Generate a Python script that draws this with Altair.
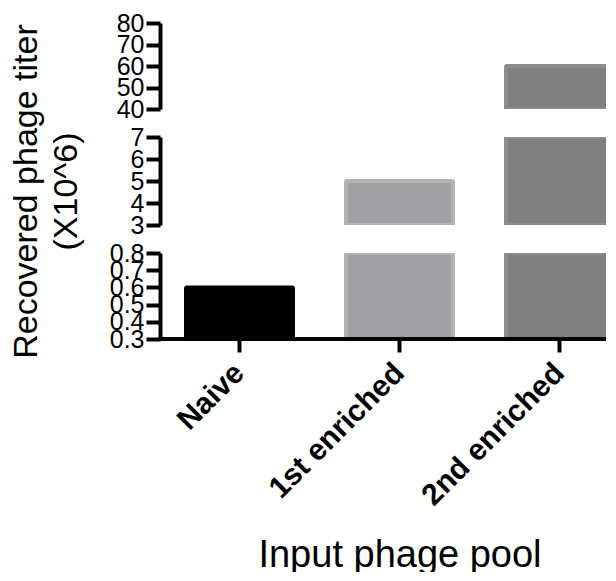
import altair as alt
import pandas as pd

pools = ["Naive", "1st enriched", "2nd enriched"]
titers = [0.6, 5.0, 60.0]
fills = ["#000000", "#a1a1a5", "#808080"]
strokes = ["#000000", "#b3b3b3", "#8c8c8c"]

seg_lo = [40, 3, 0.3]
seg_hi = [80, 7, 0.8]
seg_ticks = [[40, 50, 60, 70, 80], [3, 4, 5, 6, 7], [0.3, 0.4, 0.5, 0.6, 0.7, 0.8]]
seg_heights = [86, 88, 86]
baseline_value = 0.3

df = pd.DataFrame({"pool": pools, "titer": titers, "base": [baseline_value] * 3,
                   "fillc": fills, "strokec": strokes})

FONT = "Liberation Sans"
W = 454


def panel(i):
    lo, hi = seg_lo[i], seg_hi[i]
    last = i == 2
    mid = i == 1
    xscale = alt.Scale(domain=pools, paddingInner=0.33125, paddingOuter=0.084375, align=0.963)
    if last:
        xaxis = alt.Axis(domain=False, ticks=True, tickSize=13, tickWidth=4, tickColor="black",
                         labelAngle=-45, labelAlign="right", labelBaseline="middle",
                         labelFont=FONT, labelFontSize=30, labelFontWeight="bold", labelColor="black",
                         labelPadding=16, labelLimit=0,
                         title="Input phage pool", titleFont=FONT, titleFontSize=38,
                         titleFontWeight="normal", titleColor="black", titleX=239.5, titleY=227,
                         titleAlign="center", titleBaseline="alphabetic", grid=False)
    else:
        xaxis = None
    yargs = dict(values=seg_ticks[i], format=".1f" if last else "d", domainWidth=4, domainColor="black",
                 tickWidth=4, tickSize=14, tickColor="black", labelFont=FONT, labelFontSize=25,
                 labelColor="black", labelPadding=2, labelOverlap=False, labelFlush=False, grid=False)
    if mid:
        yargs.update(title=["Recovered phage titer", "(X10^6)"], titleFont=FONT, titleFontSize=34,
                     titleFontWeight="normal", titleColor="black", titleX=-124, titleY=54,
                     titleAlign="center", titleBaseline="alphabetic", titleLineHeight=40)
    else:
        yargs.update(title=None)
    bars = alt.Chart(df).transform_filter(alt.datum.titer > lo).mark_bar(
        clip=True, strokeWidth=4, cornerRadius=1
    ).encode(
        x=alt.X("pool:N", scale=xscale, sort=pools, axis=xaxis),
        y=alt.Y("titer:Q", scale=alt.Scale(domain=[lo, hi], clamp=True, nice=False, zero=False),
                axis=alt.Axis(**yargs)),
        y2="base:Q",
        fill=alt.Fill("fillc:N", scale=None),
        stroke=alt.Stroke("strokec:N", scale=None),
    )
    if last:
        rule = alt.Chart(df).mark_rule(color="black", strokeWidth=4).encode(
            x=alt.value(-2), x2=alt.value(W), y=alt.value(seg_heights[i])
        )
        ch = alt.layer(bars, rule)
    else:
        ch = bars
    return ch.properties(width=W, height=seg_heights[i])


chart = alt.vconcat(panel(0), panel(1), panel(2), spacing=28, bounds="flush").properties(
    padding={"left": 0, "top": 3, "right": -10, "bottom": -2}
).configure(background="white").configure_view(stroke=None)

chart.save("out.html", embed_options={"renderer": "svg", "actions": False})
